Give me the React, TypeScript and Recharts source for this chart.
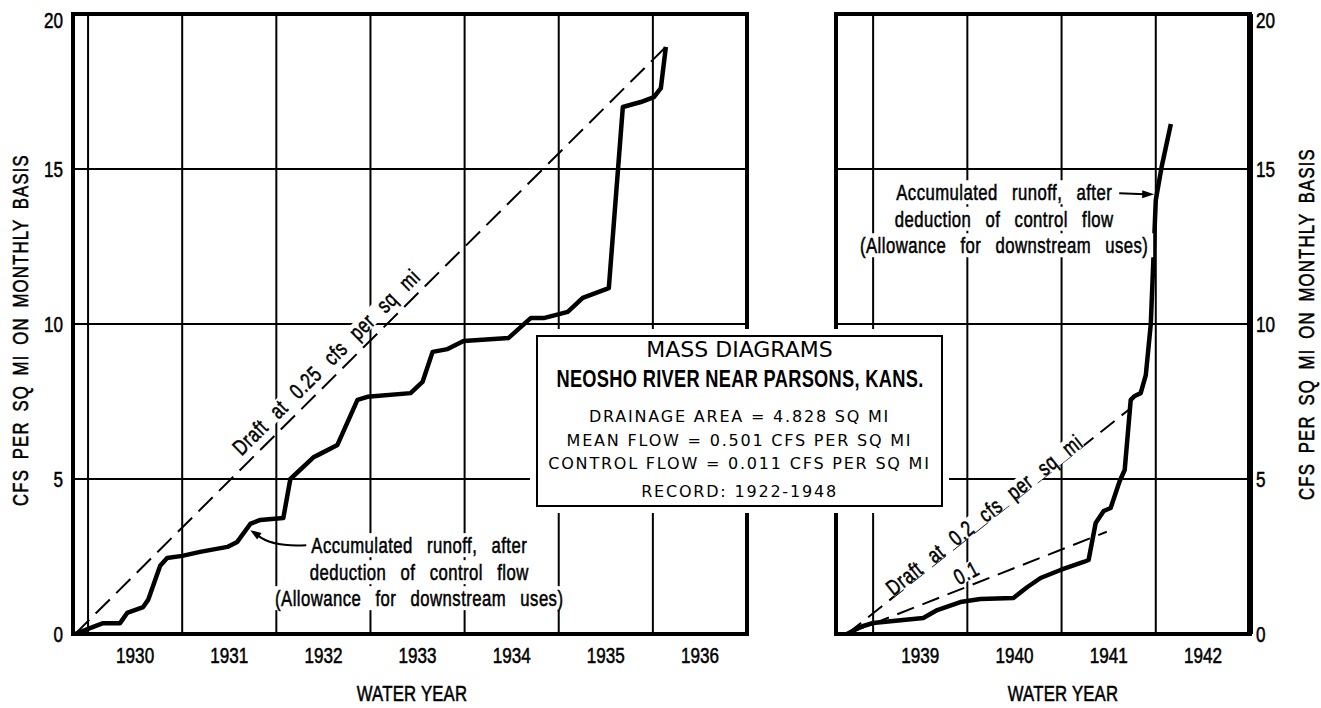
import React from "react";
import {
  LineChart,
  Line,
  XAxis,
  YAxis,
  ReferenceLine,
  ReferenceArea,
  ReferenceDot,
} from "recharts";

// Condensed lettering is produced by squeezing Liberation Sans horizontally.
const BASE = "'Liberation Sans', Arial, sans-serif";
const SQUEEZE = 0.76;
const WIDE = "'DejaVu Sans', Verdana, sans-serif";
const INK = "#000";

// ---------- Water years 1930-1936 ----------
const yearsA = [1930, 1931, 1932, 1933, 1934, 1935, 1936];
const yearEdgesA = [1929.5, 1930.5, 1931.5, 1932.5, 1933.5, 1934.5, 1935.5];
const spanA: [number, number] = [1929.34, 1936.5];

const runoffA = [
  { x: 1929.362, y: 0 },
  { x: 1929.521, y: 0.19 },
  { x: 1929.66, y: 0.35 },
  { x: 1929.84, y: 0.35 },
  { x: 1929.915, y: 0.68 },
  { x: 1930.085, y: 0.87 },
  { x: 1930.138, y: 1.1 },
  { x: 1930.266, y: 2.2 },
  { x: 1930.34, y: 2.45 },
  { x: 1930.5, y: 2.52 },
  { x: 1930.69, y: 2.65 },
  { x: 1930.98, y: 2.81 },
  { x: 1931.085, y: 2.97 },
  { x: 1931.223, y: 3.55 },
  { x: 1931.33, y: 3.68 },
  { x: 1931.574, y: 3.74 },
  { x: 1931.649, y: 5.0 },
  { x: 1931.894, y: 5.7 },
  { x: 1931.94, y: 5.77 },
  { x: 1932.149, y: 6.1 },
  { x: 1932.362, y: 7.55 },
  { x: 1932.468, y: 7.65 },
  { x: 1932.926, y: 7.77 },
  { x: 1933.053, y: 8.13 },
  { x: 1933.16, y: 9.1 },
  { x: 1933.319, y: 9.19 },
  { x: 1933.489, y: 9.45 },
  { x: 1933.968, y: 9.55 },
  { x: 1934.202, y: 10.19 },
  { x: 1934.34, y: 10.19 },
  { x: 1934.596, y: 10.39 },
  { x: 1934.755, y: 10.84 },
  { x: 1935.032, y: 11.16 },
  { x: 1935.181, y: 17.0 },
  { x: 1935.372, y: 17.16 },
  { x: 1935.511, y: 17.32 },
  { x: 1935.585, y: 17.61 },
  { x: 1935.638, y: 18.94 },
];

const draft025 = [
  { x: 1929.362, y: 0 },
  { x: 1935.638, y: 18.94 },
];

// ---------- Water years 1939-1942 ----------
const yearsB = [1939, 1940, 1941, 1942];
const yearEdgesB = [1938.5, 1939.5, 1940.5, 1941.5];
const spanB: [number, number] = [1938.106, 1942.5];

const runoffB = [
  { x: 1938.223, y: 0 },
  { x: 1938.362, y: 0.226 },
  { x: 1938.5, y: 0.355 },
  { x: 1939.032, y: 0.516 },
  { x: 1939.181, y: 0.774 },
  { x: 1939.426, y: 1.032 },
  { x: 1939.638, y: 1.129 },
  { x: 1939.989, y: 1.161 },
  { x: 1940.138, y: 1.516 },
  { x: 1940.277, y: 1.806 },
  { x: 1940.489, y: 2.065 },
  { x: 1940.734, y: 2.323 },
  { x: 1940.787, y: 2.387 },
  { x: 1940.862, y: 3.581 },
  { x: 1940.947, y: 3.968 },
  { x: 1941.021, y: 4.065 },
  { x: 1941.117, y: 4.935 },
  { x: 1941.17, y: 5.29 },
  { x: 1941.234, y: 7.55 },
  { x: 1941.277, y: 7.68 },
  { x: 1941.34, y: 7.77 },
  { x: 1941.394, y: 8.35 },
  { x: 1941.447, y: 10.0 },
  { x: 1941.5, y: 14.0 },
  { x: 1941.564, y: 15.1 },
  { x: 1941.66, y: 16.45 },
];

const draft02 = [
  { x: 1938.223, y: 0 },
  { x: 1941.24, y: 7.3 },
];

const draft01 = [
  { x: 1938.223, y: 0 },
  { x: 1940.98, y: 3.3 },
];

const cfsTicks = [0, 5, 10, 15, 20];
const cfsGrid = [5, 10, 15];
const CFS_MAX = 20;

const runoffNote = [
  "Accumulated runoff, after",
  "deduction of control flow",
  "(Allowance for downstream uses)",
];

const AXIS_TITLE = "CFS PER SQ MI ON MONTHLY BASIS";

type NTextProps = {
  x: number;
  y: number;
  anchor?: "start" | "middle" | "end";
  size?: number;
  rotate?: number;
  ls?: number;
  ws?: number;
  children: React.ReactNode;
};

// Narrow text; (x, y) is the baseline anchor point.
function NText({ x, y, anchor = "middle", size = 22, rotate = 0, ls = 0, ws = 0, children }: NTextProps) {
  return (
    <g transform={`translate(${x} ${y}) rotate(${rotate}) scale(${SQUEEZE} 1)`}>
      <text
        x={0}
        y={0}
        textAnchor={anchor}
        fontFamily={BASE}
        fontSize={size}
        letterSpacing={ls}
        wordSpacing={ws}
        fill={INK}
        stroke={INK}
        strokeWidth={0.55}
      >
        {children}
      </text>
    </g>
  );
}

function XTick(props: any) {
  const { x, y, payload } = props;
  return (
    <NText x={x} y={y + 16} anchor="middle" size={22.5}>
      {payload.value}
    </NText>
  );
}

// The top value sits just below the frame instead of centred on it.
function YTick(props: any) {
  const { x, y, payload, textAnchor } = props;
  const drop = payload.value === CFS_MAX ? 6 : 0;
  return (
    <NText x={x} y={y + 8 + drop} anchor={textAnchor} size={22.5}>
      {payload.value}
    </NText>
  );
}

type DotProps = { cx?: number; cy?: number };

function NoteRows({ ox, oy, rows }: { ox: number; oy: number; rows: { dy: number; w: number }[] }) {
  return (
    <g>
      {rows.map((r, i) => (
        <rect key={i} x={ox - r.w / 2} y={oy + r.dy - 12} width={r.w} height={24} fill="#fff" />
      ))}
      {runoffNote.map((t, i) => (
        <NText key={t} x={ox} y={oy + rows[i].dy + 8} size={22} ls={0.6} ws={12}>
          {t}
        </NText>
      ))}
    </g>
  );
}

// Annotation pointing at the 1931 runoff curve
function LeftNote({ cx = 0, cy = 0 }: DotProps) {
  const rows = [
    { dy: 15, w: 224 },
    { dy: 42, w: 224 },
    { dy: 68, w: 298 },
  ];
  return (
    <g>
      <NoteRows ox={cx + 169} oy={cy} rows={rows} />
      <path
        d={`M ${cx + 56} ${cy + 15} Q ${cx + 22} ${cy + 17} ${cx + 7} ${cy + 5}`}
        fill="none"
        stroke={INK}
        strokeWidth={2}
      />
      <polygon points={`${cx},${cy} ${cx + 11.3},${cy + 2.8} ${cx + 6.9},${cy + 9.4}`} fill={INK} />
    </g>
  );
}

// Annotation pointing at the 1941 runoff curve
function RightNote({ cx = 0, cy = 0 }: DotProps) {
  const rows = [
    { dy: 0, w: 224 },
    { dy: 26.5, w: 224 },
    { dy: 53, w: 298 },
  ];
  return (
    <g>
      <NoteRows ox={cx - 153} oy={cy} rows={rows} />
      <line x1={cx - 38} y1={cy + 1} x2={cx - 12} y2={cy + 2} stroke={INK} strokeWidth={2} />
      <polygon
        points={`${cx - 3},${cy + 2} ${cx - 15},${cy - 2} ${cx - 15},${cy + 6}`}
        fill={INK}
      />
    </g>
  );
}

function slantLabel(text: string, angle: number, bgW: number) {
  return function SlantLabel({ cx = 0, cy = 0 }: DotProps) {
    return (
      <g transform={`translate(${cx} ${cy}) rotate(${angle})`}>
        <rect x={-bgW / 2} y={-9} width={bgW} height={17} fill="#fff" />
        <NText x={0} y={7.5} size={22} ls={0.8} ws={10}>
          {text}
        </NText>
      </g>
    );
  };
}

const Draft025Label = slantLabel("Draft at 0.25 cfs per sq mi", -44.7, 252);
const Draft02Label = slantLabel("Draft at 0.2 cfs per sq mi", -38.4, 242);
const Draft01Label = slantLabel("0.1", -28, 24);

function yTitle(dx: number, dy: number) {
  return function YTitle(props: any) {
    const vb = props.viewBox || { x: 0, y: 0, width: 0, height: 0 };
    const x = vb.x + dx + 8;
    const y = vb.y + vb.height / 2 + dy;
    return (
      <NText x={x} y={y} rotate={-90} size={22} ls={1.6} ws={5}>
        {AXIS_TITLE}
      </NText>
    );
  };
}

function xTitle(dx: number) {
  return function XTitle(props: any) {
    const vb = props.viewBox || { x: 0, y: 0, width: 0, height: 0 };
    return (
      <NText x={vb.x + vb.width / 2 + dx} y={vb.y + 67} size={22} ls={0.3}>
        WATER YEAR
      </NText>
    );
  };
}

function PanelA() {
  return (
    <LineChart width={780} height={708} margin={{ top: 14, right: 33, bottom: 14, left: 0 }}>
      <XAxis
        type="number"
        dataKey="x"
        domain={spanA}
        ticks={yearsA}
        interval={0}
        allowDataOverflow
        axisLine={false}
        tickLine={false}
        tickSize={0}
        tickMargin={13}
        height={60}
        tick={<XTick />}
        label={xTitle(2)}
      />
      <YAxis
        type="number"
        domain={[0, CFS_MAX]}
        ticks={cfsTicks}
        interval={0}
        allowDataOverflow
        width={73}
        axisLine={false}
        tickLine={false}
        tickSize={0}
        tickMargin={10}
        tick={<YTick />}
        label={yTitle(20, 6)}
      />
      {cfsGrid.map((v) => (
        <ReferenceLine key={`h${v}`} y={v} stroke={INK} strokeWidth={2} />
      ))}
      {yearEdgesA.map((v) => (
        <ReferenceLine key={`v${v}`} x={v} stroke={INK} strokeWidth={2} />
      ))}
      <ReferenceArea
        x1={spanA[0]}
        x2={spanA[1]}
        y1={0}
        y2={CFS_MAX}
        fill="none"
        stroke={INK}
        strokeWidth={4}
      />
      <Line
        data={draft025}
        dataKey="y"
        stroke={INK}
        strokeWidth={2}
        strokeDasharray="20 9"
        dot={false}
        isAnimationActive={false}
      />
      <Line
        data={runoffA}
        dataKey="y"
        stroke={INK}
        strokeWidth={4.5}
        strokeLinejoin="round"
        dot={false}
        isAnimationActive={false}
      />
      <ReferenceDot x={1932.03} y={8.77} r={0} shape={Draft025Label} />
      <ReferenceDot x={1931.223} y={3.35} r={0} shape={LeftNote} />
    </LineChart>
  );
}

function PanelB() {
  return (
    <LineChart width={541} height={708} margin={{ top: 14, right: 0, bottom: 14, left: 56 }}>
      <XAxis
        type="number"
        dataKey="x"
        domain={spanB}
        ticks={yearsB}
        interval={0}
        allowDataOverflow
        axisLine={false}
        tickLine={false}
        tickSize={0}
        tickMargin={13}
        height={60}
        tick={<XTick />}
        label={xTitle(20)}
      />
      <YAxis
        type="number"
        orientation="right"
        domain={[0, CFS_MAX]}
        ticks={cfsTicks}
        interval={0}
        allowDataOverflow
        width={71}
        axisLine={false}
        tickLine={false}
        tickSize={0}
        tickMargin={6}
        tick={<YTick />}
        label={yTitle(56, 0)}
      />
      {cfsGrid.map((v) => (
        <ReferenceLine key={`h${v}`} y={v} stroke={INK} strokeWidth={2} />
      ))}
      {yearEdgesB.map((v) => (
        <ReferenceLine key={`v${v}`} x={v} stroke={INK} strokeWidth={2} />
      ))}
      <ReferenceArea
        x1={spanB[0]}
        x2={spanB[1]}
        y1={0}
        y2={CFS_MAX}
        fill="none"
        stroke={INK}
        strokeWidth={4}
      />
      <ReferenceLine x={spanB[1]} stroke={INK} strokeWidth={6} />
      <Line
        data={draft02}
        dataKey="y"
        stroke={INK}
        strokeWidth={2}
        strokeDasharray="18 9"
        dot={false}
        isAnimationActive={false}
      />
      <Line
        data={draft01}
        dataKey="y"
        stroke={INK}
        strokeWidth={2}
        strokeDasharray="18 9"
        dot={false}
        isAnimationActive={false}
      />
      <Line
        data={runoffB}
        dataKey="y"
        stroke={INK}
        strokeWidth={4.5}
        strokeLinejoin="round"
        dot={false}
        isAnimationActive={false}
      />
      <ReferenceDot x={1939.68} y={3.84} r={0} shape={Draft02Label} />
      <ReferenceDot x={1939.49} y={1.97} r={0} shape={Draft01Label} />
      <ReferenceDot x={1941.515} y={14.25} r={0} shape={RightNote} />
    </LineChart>
  );
}

// Title block lines: text, vertical centre (relative to the box), style
const titleRows = [
  { text: "MASS DIAGRAMS", mid: 15, font: WIDE, size: 22, weight: 400, spacing: 0, narrow: false },
  { text: "NEOSHO RIVER NEAR PARSONS, KANS.", mid: 44, font: BASE, size: 24, weight: 700, spacing: 0.4, narrow: true },
  { text: "DRAINAGE AREA = 4.828 SQ MI", mid: 82, font: WIDE, size: 16, weight: 400, spacing: 1.8, narrow: false },
  { text: "MEAN FLOW = 0.501 CFS PER SQ MI", mid: 106, font: WIDE, size: 16, weight: 400, spacing: 1.8, narrow: false },
  { text: "CONTROL FLOW = 0.011 CFS PER SQ MI", mid: 129, font: WIDE, size: 16, weight: 400, spacing: 1.8, narrow: false },
  { text: "RECORD: 1922-1948", mid: 157, font: WIDE, size: 16, weight: 400, spacing: 1.8, narrow: false },
];

function TitleBlock() {
  return (
    <div
      style={{
        position: "absolute",
        left: 530,
        top: 329,
        width: 419,
        height: 184,
        background: "#fff",
      }}
    >
      <div
        style={{
          position: "absolute",
          left: 6,
          top: 6,
          width: 407,
          height: 172,
          boxSizing: "border-box",
          border: "2px solid #000",
          background: "#fff",
        }}
      >
        {titleRows.map((r) => (
          <div
            key={r.text}
            style={{
              position: "absolute",
              left: "50%",
              top: r.mid - 2 - 15,
              height: 30,
              lineHeight: "30px",
              whiteSpace: "nowrap",
              fontFamily: r.font,
              fontSize: r.size,
              fontWeight: r.weight,
              letterSpacing: r.spacing,
              color: INK,
              transform: `translateX(-50%)${r.narrow ? ` scaleX(${SQUEEZE})` : ""}`,
              transformOrigin: "center",
            }}
          >
            {r.text}
          </div>
        ))}
      </div>
    </div>
  );
}

export default function App() {
  return (
    <div
      style={{
        position: "absolute",
        left: 0,
        top: 0,
        width: 1321,
        height: 708,
        background: "#fff",
        overflow: "hidden",
      }}
    >
      <div style={{ position: "absolute", left: 0, top: 0 }}>
        <PanelA />
      </div>
      <div style={{ position: "absolute", left: 780, top: 0 }}>
        <PanelB />
      </div>
      <TitleBlock />
    </div>
  );
}
